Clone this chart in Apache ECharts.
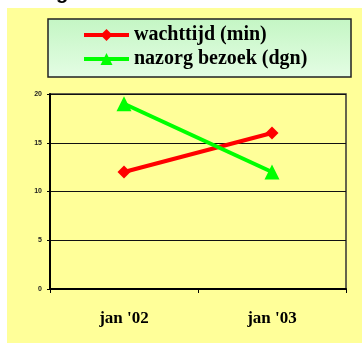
<!DOCTYPE html>
<html><head><meta charset="utf-8">
<script src="https://cdn.jsdelivr.net/npm/echarts@6/dist/echarts.min.js"></script>
<style>html,body{margin:0;padding:0;background:#fff}#c{width:362px;height:351px}</style>
</head><body><div id="c"></div>
<script>
const categories = ["jan '02", "jan '03"];
const wachttijd = [12, 16];
const nazorg = [19, 12];
const seriesNames = ['wachttijd (min)', 'nazorg bezoek (dgn)'];
const yTicks = [0, 5, 10, 15, 20];

const chart = echarts.init(document.getElementById('c'), null, {renderer: 'canvas'});
chart.setOption({
  backgroundColor: '#ffffff',
  animation: false,
  graphic: [
    {type: 'rect', z: -10, shape: {x: 7, y: 8, width: 355, height: 335}, style: {fill: '#ffff99'}},
    {type: 'rect', z: -5, shape: {x: 48, y: 19, width: 303, height: 58},
      style: {fill: new echarts.graphic.LinearGradient(0, 0, 0, 1, [{offset: 0, color: '#c4f6c4'}, {offset: 1, color: '#e4fde4'}]), stroke: '#222', lineWidth: 1.5}},
    {type: 'text', z: 10, x: 56, y: -17, style: {text: 'g', font: 'bold 20px Arial', fill: '#000'}}
  ],
  legend: {
    orient: 'vertical', left: 82, top: 23, itemWidth: 45, itemHeight: 15, itemGap: 0,
    padding: 0,
    lineStyle: {width: 4},
    textStyle: {fontFamily: 'Liberation Serif', fontWeight: 'bold', fontSize: 20, color: '#000', lineHeight: 24},
    data: seriesNames
  },
  grid: {left: 50, top: 94, width: 296, height: 195, show: true, borderColor: '#333', borderWidth: 1.5, backgroundColor: 'transparent'},
  xAxis: {
    type: 'category', data: categories, boundaryGap: true,
    axisLine: {lineStyle: {color: '#000', width: 2}},
    axisTick: {show: true, length: 4, lineStyle: {color: '#000', width: 1}},
    axisLabel: {margin: 21, fontFamily: 'Liberation Serif', fontWeight: 'bold', fontSize: 17, color: '#000'}
  },
  yAxis: {
    type: 'value', min: yTicks[0], max: yTicks[yTicks.length - 1], interval: 5,
    axisLine: {show: true, lineStyle: {color: '#000', width: 2}},
    axisTick: {show: true, length: 3, lineStyle: {color: '#000', width: 1}},
    axisLabel: {margin: 8, fontFamily: 'Arial', fontWeight: 'bold', fontSize: 7, color: '#222'},
    splitLine: {show: true, lineStyle: {color: '#111', width: 1}}
  },
  series: [
    {name: seriesNames[0], type: 'line', data: wachttijd, color: '#ff0000',
      symbol: 'diamond', symbolSize: 13, lineStyle: {width: 4, color: '#ff0000'}, itemStyle: {color: '#ff0000'}},
    {name: seriesNames[1], type: 'line', data: nazorg, color: '#00ff00',
      symbol: 'triangle', symbolSize: 15, lineStyle: {width: 4, color: '#00ff00'}, itemStyle: {color: '#00ff00'}}
  ]
});
</script></body></html>
